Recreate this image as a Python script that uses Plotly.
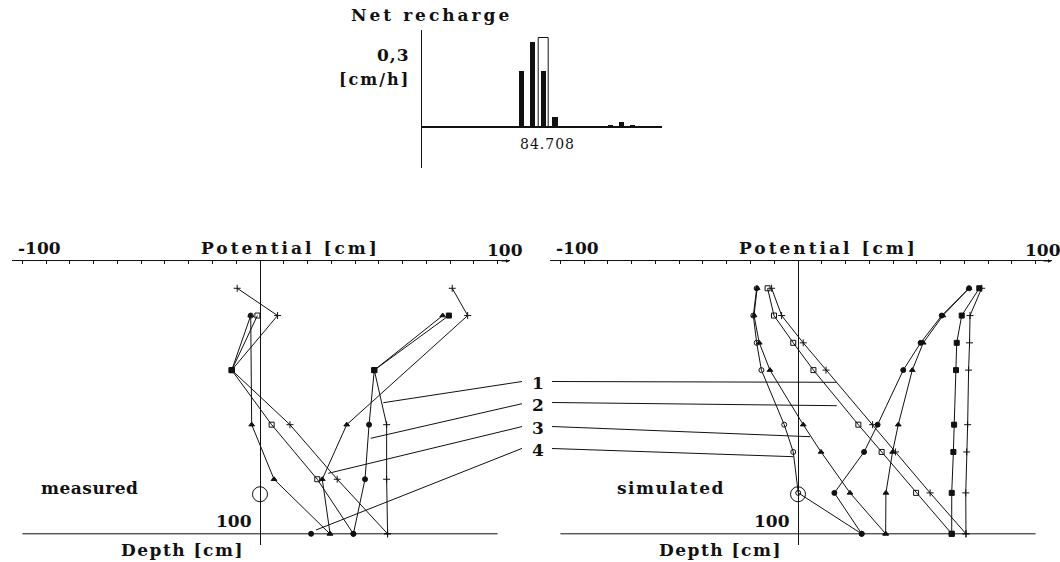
import plotly.graph_objects as go

W, H = 1060, 562

# ---------------- Net recharge (top panel) ----------------
rech_hours = [-1, 0, 1, 2, 3, 4, 5, 9, 10, 11]
rech_sim = [0.002, 0.005, 0.232, 0.351, 0.232, 0.044, 0.005, 0.009, 0.023, 0.011]
rech_obs_hours = [3]
rech_obs = [0.364]
rech_date = "84.708"

# ---------------- Measured profiles (left) ----------------
depth_meas = [10, 20, 40, 60, 80, 100]
# pressure (matric) potential, as drawn
meas_matric_t1 = [-9.6, 7.4, -11.9, 12.6, 32.5, 53.7]
meas_matric_t2 = [None, -1.1, -11.9, 4.9, 24.1, 39.3]
meas_matric_t3 = [None, -3.9, None, -3.5, 5.9, 29.4]
meas_matric_t4 = [None, -3.9, -11.9, None, None, None]
meas_matric_sym_t1 = ["cross-thin", "cross-thin", "square", "cross-thin", "cross-thin", "cross-thin"]
meas_matric_sym_t2 = ["square-open", "square-open", "square", "square-open", "square-open", "circle"]
meas_matric_sym_t3 = ["triangle-up"] * 6
meas_matric_sym_t4 = ["circle-open", "circle-open", "square", "circle", "circle", "circle"]
# hydraulic potential, as drawn
meas_hydr_t1 = [80.9, 87.4, None, 36.5, 26.2, 29.5]
meas_hydr_t2 = [None, 79.5, 48.1, 45.9, 44.2, 39.3]
meas_hydr_t3 = [None, 76.9, 48.1, 53.3, 53.3, 53.7]
meas_hydr_sym_t1 = ["cross-thin", "cross-thin", "square", "triangle-up", "triangle-up", "triangle-up"]
meas_hydr_sym_t2 = ["square", "square", "square", "circle", "circle", "circle"]
meas_hydr_sym_t3 = ["triangle-up", "triangle-up", "square", "cross-thin", "cross-thin", "cross-thin"]
meas_bottom_t4 = [21.5]
meas_bottom_depth = [100]

# ---------------- Simulated profiles (right) ----------------
depth_sim = [10, 20, 30, 40, 60, 70, 85, 100]
sim_matric_t1 = [-11.1, -6.9, 2.2, 11.8, 31.4, 41.0, 55.6, 70.7]
sim_hydr_t1 = [77.3, 72.4, 72.2, 71.8, 71.4, 71.0, 70.6, 70.7]
sim_matric_t2 = [-12.8, -10.1, -2.0, 6.5, 25.4, 35.2, 49.7, 64.7]
sim_hydr_t2 = [76.3, 68.9, 66.8, 66.5, 65.7, 65.4, 64.7, 64.7]
sim_matric_t3 = [-17.2, -18.5, -16.3, -11.8, 2.2, 9.7, 21.9, 36.9]
sim_hydr_t3 = [72.0, 61.0, 52.7, 48.1, 42.2, 39.8, 37.0, 36.9]
sim_matric_t4 = [-17.4, -18.8, -17.4, -15.4, -5.8, -2.0, 0.1, 26.8]
sim_hydr_t4 = [72.0, 60.5, 51.6, 44.3, 33.5, 27.8, 15.3, 26.8]
sim_sym_matric = ["cross-thin", "square-open", "triangle-up", "circle-open"]
sim_sym_hydr = ["cross-thin", "square", "triangle-up", "circle"]

ref_depth = [85.5]
ref_potential = [0]

FONT = "DejaVu Serif"
BLACK = "#111111"


def px(x):
    return x / W


def py(y):
    return 1 - y / H


fig = go.Figure()

# --- bars ---
fig.add_trace(go.Bar(x=rech_obs_hours, y=rech_obs, width=0.9,
                     marker=dict(color="white", line=dict(color=BLACK, width=1)),
                     xaxis="x", yaxis="y", showlegend=False))
fig.add_trace(go.Bar(x=rech_hours, y=rech_sim, width=0.5,
                     marker=dict(color=BLACK, line=dict(width=0)),
                     xaxis="x", yaxis="y", showlegend=False))


def add_profile(xs, depths, symbol, xa, ya, size=5, mode="lines+markers"):
    fig.add_trace(go.Scatter(
        x=xs, y=depths, mode=mode, connectgaps=True,
        line=dict(color=BLACK, width=1),
        marker=dict(symbol=symbol, size=size, color=BLACK,
                    line=dict(color=BLACK, width=1)),
        xaxis=xa, yaxis=ya, showlegend=False, cliponaxis=False))


add_profile(meas_matric_t1, depth_meas, meas_matric_sym_t1, "x2", "y2")
add_profile(meas_matric_t2, depth_meas, meas_matric_sym_t2, "x2", "y2")
add_profile(meas_matric_t3, depth_meas, meas_matric_sym_t3, "x2", "y2")
add_profile(meas_matric_t4, depth_meas, meas_matric_sym_t4, "x2", "y2")
add_profile(meas_hydr_t1, depth_meas, meas_hydr_sym_t1, "x2", "y2")
add_profile(meas_hydr_t2, depth_meas, meas_hydr_sym_t2, "x2", "y2")
add_profile(meas_hydr_t3, depth_meas, meas_hydr_sym_t3, "x2", "y2")
add_profile(meas_bottom_t4, meas_bottom_depth, "circle", "x2", "y2", mode="markers")

sim_m = [sim_matric_t1, sim_matric_t2, sim_matric_t3, sim_matric_t4]
sim_h = [sim_hydr_t1, sim_hydr_t2, sim_hydr_t3, sim_hydr_t4]
for i in range(4):
    add_profile(sim_m[i], depth_sim, sim_sym_matric[i], "x3", "y3")
    add_profile(sim_h[i], depth_sim, sim_sym_hydr[i], "x3", "y3")

for xa, ya in (("x2", "y2"), ("x3", "y3")):
    fig.add_trace(go.Scatter(x=ref_potential, y=ref_depth, mode="markers",
                             marker=dict(symbol="circle-open", size=15, color=BLACK,
                                         line=dict(width=1)),
                             xaxis=xa, yaxis=ya, showlegend=False, cliponaxis=False))

# ---------------- axes ----------------
ZERO_PX = {"x2": 260, "x3": 798}
SCALE = 2.376     # px per cm potential
D0, DS = 261, 2.728  # depth origin px, px per cm
left_ext, right_ext = 12, 509.6
y_bottom_px = 545

prof_ydom = [py(y_bottom_px), py(D0)]
prof_yrange = [(y_bottom_px - D0) / DS, 0]

layout_axes = {}
for name, z in ZERO_PX.items():
    lo = left_ext + (z - 260)
    hi = right_ext + (z - 260) + (4 if name == "x3" else 0)
    layout_axes["xaxis" + name[1:]] = dict(
        domain=[px(lo), px(hi)], range=[(lo - z) / SCALE, (hi - z) / SCALE],
        side="top", showline=True, linecolor=BLACK, linewidth=1,
        ticks="inside", ticklen=3, tickcolor=BLACK, tickwidth=1,
        tickmode="linear", tick0=-100, dtick=10, showticklabels=False,
        showgrid=False, zeroline=True, zerolinecolor=BLACK, zerolinewidth=1,
        anchor="y" + name[1:], fixedrange=True)
    layout_axes["yaxis" + name[1:]] = dict(
        domain=prof_ydom, range=prof_yrange, visible=False,
        anchor="x" + name[1:], showgrid=False, zeroline=False)

bar_x0, bar_x1 = 421.7, 661.7
bar_c0, bar_cs = 510, 11.12
bar_base, bar_scale = 127.3, 244.3
fig.update_layout(
    xaxis=dict(domain=[px(bar_x0), px(bar_x1)],
               range=[(bar_x0 - bar_c0) / bar_cs, (bar_x1 - bar_c0) / bar_cs],
               visible=False, anchor="y"),
    yaxis=dict(domain=[py(168), py(30)],
               range=[-(168 - bar_base) / bar_scale, (bar_base - 30) / bar_scale],
               showline=True, linecolor=BLACK, linewidth=1, ticks="",
               showticklabels=False, showgrid=False,
               zeroline=True, zerolinecolor=BLACK, zerolinewidth=1.6, anchor="x"),
    **layout_axes,
)

# ---------------- decorations ----------------
shapes = []
for xa, ya in (("x2", "y2"), ("x3", "y3")):
    shapes.append(dict(type="line", xref=xa, yref=ya, x0=-100, x1=100, y0=100, y1=100,
                       line=dict(color=BLACK, width=1)))

leaders_left = [((522, 381.5), (383.3, 402.7)), ((522, 403.7), (370.7, 438.3)),
                ((522, 426.6), (328.3, 473.3)), ((522, 448.4), (316, 530))]
leaders_right = [((552, 381.5), (836.7, 382.3)), ((552, 402.5), (836.7, 405.7)),
                 ((552, 426.5), (810, 436.7)), ((552, 448.5), (793.3, 456.7))]
for (a, b) in leaders_left + leaders_right:
    shapes.append(dict(type="line", xref="paper", yref="paper",
                       x0=px(a[0]), y0=py(a[1]), x1=px(b[0]), y1=py(b[1]),
                       line=dict(color=BLACK, width=1)))

ann = []


def text(s, x, y, size=17, bold=True, xanchor="center", ls=0):
    t = ("<b>%s</b>" % s) if bold else s
    if ls:
        t = '<span style="letter-spacing:%spx">%s</span>' % (ls, t)
    ann.append(dict(text=t, x=px(x), y=py(y),
                    xref="paper", yref="paper", showarrow=False, xanchor=xanchor,
                    yanchor="middle", font=dict(family=FONT, size=size, color=BLACK)))


text("Net recharge", 431, 15, 17, ls=3)
text("0,3", 412, 55, 17, xanchor="right", ls=1)
text("[cm/h]", 412, 80, 16, xanchor="right", ls=2)
text(rech_date, 547, 144, 14, bold=False, ls=1)

for off in (0, 538):
    text("-100", 39 + off, 248, 17)
    text("Potential [cm]", 290 + off, 248, 17, ls=3)
    text("100", 505 + off, 250, 17)
    text("100", 234 + off, 521, 17)
    text("Depth [cm]", 182 + off, 550, 17, ls=1.5)
text("measured", 89, 488, 17, ls=0.5)
text("simulated", 671, 488, 17, ls=1.5)
for i, yy in enumerate([383, 405, 428, 450]):
    text(str(i + 1), 538, yy, 17)

# arrowheads on top axes
for xa, ya, hi in (("x2", "y2", 105.0), ("x3", "y3", 106.7)):
    ann.append(dict(x=hi, y=0, xref=xa, yref=ya, ax=hi - 4, ay=0, axref=xa, ayref=ya,
                    text="", showarrow=True, arrowhead=2, arrowsize=0.7,
                    arrowwidth=1, arrowcolor=BLACK))

fig.update_layout(width=W, height=H, margin=dict(l=0, r=0, t=0, b=0),
                  paper_bgcolor="white", plot_bgcolor="white",
                  barmode="overlay", bargap=0,
                  shapes=shapes, annotations=ann, showlegend=False)

fig.write_html("out.html")
